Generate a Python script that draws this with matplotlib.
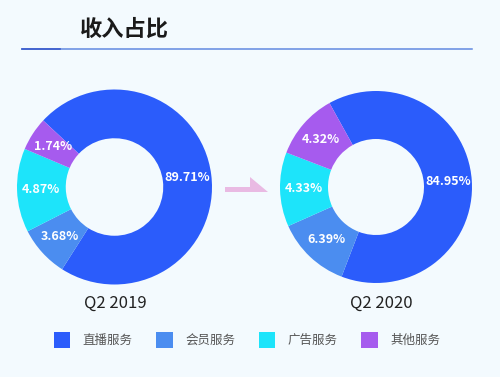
import matplotlib

matplotlib.use("Agg")
import matplotlib.pyplot as plt
import numpy as np
from matplotlib.lines import Line2D
from matplotlib.patches import Patch, Polygon

plt.rcParams["font.family"] = ["Noto Sans CJK SC", "DejaVu Sans"]

CATEGORIES = ["直播服务", "会员服务", "广告服务", "其他服务"]
PERIODS = ["Q2 2019", "Q2 2020"]
SHARE_2019 = [89.71, 3.68, 4.87, 1.74]
SHARE_2020 = [84.95, 6.39, 4.33, 4.32]
# arcs as drawn in the original (degrees), the small slices are enlarged
ARC_2019 = [259.5, 30.5, 50.0, 20.0]
ARC_2020 = [230.0, 45.0, 45.0, 40.0]

COLORS = ["#2B5CFB", "#4B8DF0", "#1DE4FA", "#A65BEE"]
BG = "#F3FAFE"
W, H = 500, 377


def px_rect(cx, cy, r):
    return [(cx - r) / W, 1 - (cy + r) / H, 2 * r / W, 2 * r / H]


def px_pt(x, y):
    return (x / W, 1 - y / H)


def draw_donut(fig, cx, cy, r, arcs, shares, start):
    ax = fig.add_axes(px_rect(cx, cy, r))
    wedges, _ = ax.pie(
        arcs,
        colors=COLORS,
        startangle=start,
        counterclock=False,
        radius=1.0,
        wedgeprops=dict(width=0.5, linewidth=0),
    )
    for wedge, value in zip(wedges, shares):
        mid = np.deg2rad((wedge.theta1 + wedge.theta2) / 2)
        ax.text(
            0.755 * np.cos(mid), 0.755 * np.sin(mid), f"{value:.2f}%",
            ha="center", va="center", color="white", fontsize=9, fontweight="bold",
        )
    ax.set_xlim(-1, 1)
    ax.set_ylim(-1, 1)
    ax.axis("off")
    return ax


fig = plt.figure(figsize=(5.0, 3.77), dpi=100, facecolor=BG)

fig.text(*px_pt(80, 29), "收入占比", fontsize=16, fontweight="bold", va="center", color="#1A1A1A")
fig.add_artist(Line2D([22 / W, 472 / W], [1 - 49 / H] * 2, color="#6189E0", lw=1.1, transform=fig.transFigure))
fig.add_artist(Line2D([22 / W, 60 / W], [1 - 49 / H] * 2, color="#3A5CCC", lw=1.2, transform=fig.transFigure))

draw_donut(fig, 114.5, 187, 97.5, ARC_2019, SHARE_2019, 137)
draw_donut(fig, 376, 187, 96, ARC_2020, SHARE_2020, 119)

fig.text(*px_pt(115, 303), PERIODS[0], fontsize=12, ha="center", va="center", color="#222222")
fig.text(*px_pt(381, 303), PERIODS[1], fontsize=12, ha="center", va="center", color="#222222")

arrow = [(225, 187), (250, 187), (250, 177), (268, 192), (225, 192)]
fig.add_artist(Polygon([px_pt(x, y) for x, y in arrow], closed=True, color="#E9BAE3", lw=0,
                       transform=fig.transFigure))

handles = [Patch(facecolor=c, edgecolor="none") for c in COLORS]
fig.legend(
    handles, CATEGORIES, loc="center", bbox_to_anchor=px_pt(247, 340), ncol=4, frameon=False,
    fontsize=9, labelcolor="#555555", handlelength=1.3, handleheight=1.6,
    handletextpad=1.0, columnspacing=1.9,
)

fig.savefig("out.png", dpi=100, facecolor=BG)
